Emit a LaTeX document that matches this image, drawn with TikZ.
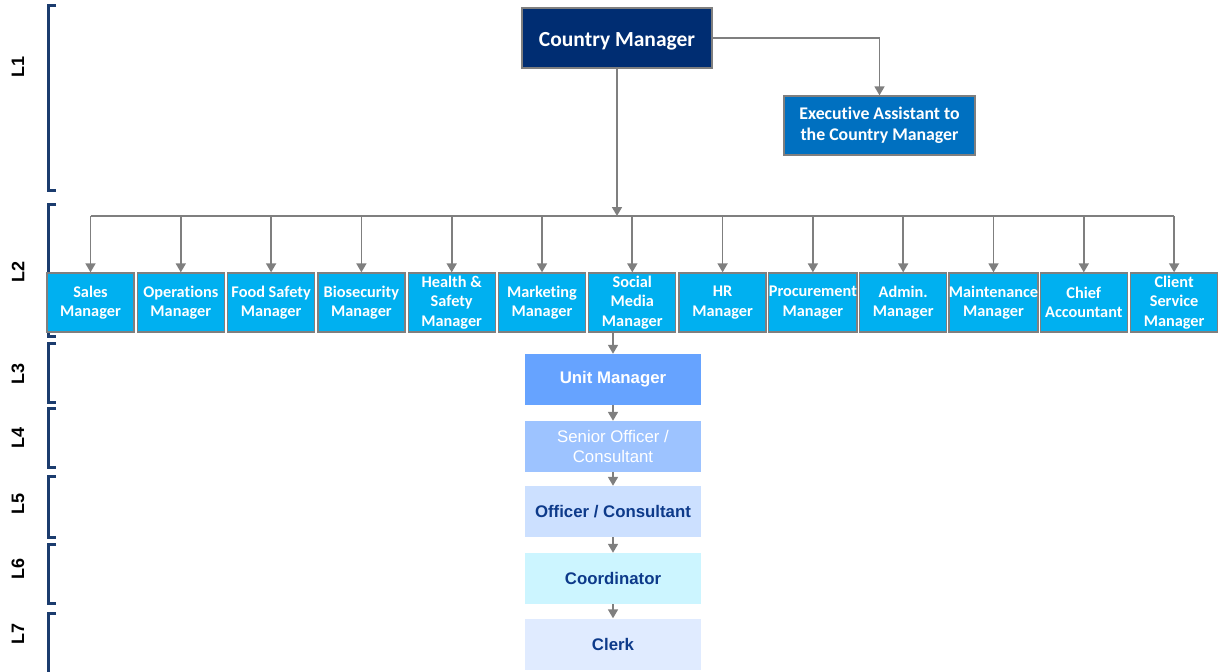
\documentclass[tikz,border=0pt]{standalone}
\usepackage{fontspec}
\setmainfont{Carlito}[Ligatures=NoCommon]
\newfontfamily\arialf{Liberation Sans}
\usetikzlibrary{arrows.meta}
\definecolor{cmnavy}{HTML}{002D72}
\definecolor{eablue}{HTML}{0070C0}
\definecolor{lcyan}{HTML}{00B0F0}
\definecolor{unitc}{HTML}{66A3FF}
\definecolor{seniorc}{HTML}{9DC3FF}
\definecolor{officerc}{HTML}{CCE0FF}
\definecolor{coordc}{HTML}{CCF5FF}
\definecolor{clerkc}{HTML}{E0EBFF}
\definecolor{tnavy}{HTML}{0D3A8A}
\definecolor{bgray}{HTML}{7F7F7F}
\definecolor{brkc}{HTML}{1B3C6E}
\begin{document}
\begin{tikzpicture}[x=1pt,y=-1pt,
  topbox/.style={draw=bgray,line width=1.3pt,fill=cmnavy,text=white,font=\bfseries\fontsize{21.5}{25}\selectfont,minimum width=190pt,minimum height=60pt,inner sep=0pt,align=center,text height=20pt,text depth=3pt},
  eabox/.style={draw=bgray,line width=1.3pt,fill=eablue,text=white,font=\bfseries\fontsize{17.8}{21.5}\selectfont,minimum width=191pt,minimum height=59pt,inner sep=0pt,align=center},
  lbox/.style={draw=bgray,line width=1.3pt,fill=lcyan,text=white,font=\bfseries\fontsize{16.3}{19.5}\selectfont,minimum width=87pt,minimum height=59pt,inner sep=0pt,align=center},
  lowbox/.style={draw=none,minimum width=176pt,minimum height=51pt,inner sep=0pt,align=center,font=\arialf\bfseries\fontsize{16.8}{19.5}\selectfont,text=tnavy},
  arr/.style={draw=bgray,line width=1.7pt,-{Triangle[width=10pt,length=9pt]}},
  conn/.style={draw=bgray,line width=1.7pt},
  brk/.style={draw=brkc,line width=3pt},
  lvl/.style={rotate=90,font=\arialf\bfseries\fontsize{18}{21}\selectfont,text=black,inner sep=0pt}]
\useasboundingbox (0,0) rectangle (1227,672);

% brackets
\draw[brk] (56,5) -- (48,5) -- (48,190) -- (56,190);
\draw[brk] (56,204) -- (48,204) -- (48,336) -- (56,336);
\draw[brk] (56,343) -- (48,343) -- (48,402) -- (56,402);
\draw[brk] (56,408) -- (48,408) -- (48,467) -- (56,467);
\draw[brk] (56,476) -- (48,476) -- (48,537) -- (56,537);
\draw[brk] (56,544) -- (48,544) -- (48,603) -- (56,603);
\draw[brk] (56,613) -- (48,613) -- (48,672);

\node[lvl] (L1) at (18,67) {L1};
\node[lvl] (L2) at (18,272) {L2};
\node[lvl] (L3) at (18,374) {L3};
\node[lvl] (L4) at (18,438) {L4};
\node[lvl] (L5) at (18,504) {L5};
\node[lvl] (L6) at (18,569) {L6};
\node[lvl] (L7) at (18,634) {L7};

% top
\node[topbox] (cm) at (617,38) {Country Manager};
\node[eabox] (ea) at (879.5,125.5) {Executive Assistant to\\the Country Manager};
\draw[arr] (cm.east) -| (ea.north);

\coordinate (bus) at (617,216);
\draw[arr] (cm.south) -- (bus);

% L2 boxes
\node[lbox] (b1) at (90.5,302.5) {Sales\\Manager};
\node[lbox] (b2) at (180.8,302.5) {Operations\\Manager};
\node[lbox] (b3) at (271.1,302.5) {Food Safety\\Manager};
\node[lbox] (b4) at (361.4,302.5) {Biosecurity\\Manager};
\node[lbox] (b5) at (451.7,302.5) {Health \&\\Safety\\Manager};
\node[lbox] (b6) at (542.0,302.5) {Marketing\\Manager};
\node[lbox] (b7) at (632.3,302.5) {Social\\Media\\Manager};
\node[lbox] (b8) at (722.6,302.5) {HR\\Manager};
\node[lbox] (b9) at (812.9,302.5) {Procurement\\Manager};
\node[lbox] (b10) at (903.2,302.5) {Admin.\\Manager};
\node[lbox] (b11) at (993.5,302.5) {Maintenance\\Manager};
\node[lbox] (b12) at (1083.8,302.5) {Chief\\Accountant};
\node[lbox] (b13) at (1174.1,302.5) {Client\\Service\\Manager};

\draw[conn] (b1.north |- bus) -- (b13.north |- bus);
\foreach \i in {1,...,13} {
  \draw[arr] (b\i.north |- bus) -- (b\i.north);
}

% lower chain
\node[lowbox,fill=unitc,text=white] (unit) at (613,379.5) {Unit Manager};
\node[lowbox,fill=seniorc,text=white,font=\arialf\fontsize{16.8}{19.5}\selectfont] (senior) at (613,446.5) {Senior Officer /\\Consultant};
\node[lowbox,fill=officerc] (officer) at (613,511.5) {Officer / Consultant};
\node[lowbox,fill=coordc] (coord) at (613,578.5) {Coordinator};
\node[lowbox,fill=clerkc] (clerk) at (613,644) {Clerk};

\draw[arr] (unit.north |- b7.south) -- (unit.north);
\draw[arr] (unit.south) -- (senior.north);
\draw[arr] (senior.south) -- (officer.north);
\draw[arr] (officer.south) -- (coord.north);
\draw[arr] (coord.south) -- (clerk.north);
\end{tikzpicture}
\end{document}
